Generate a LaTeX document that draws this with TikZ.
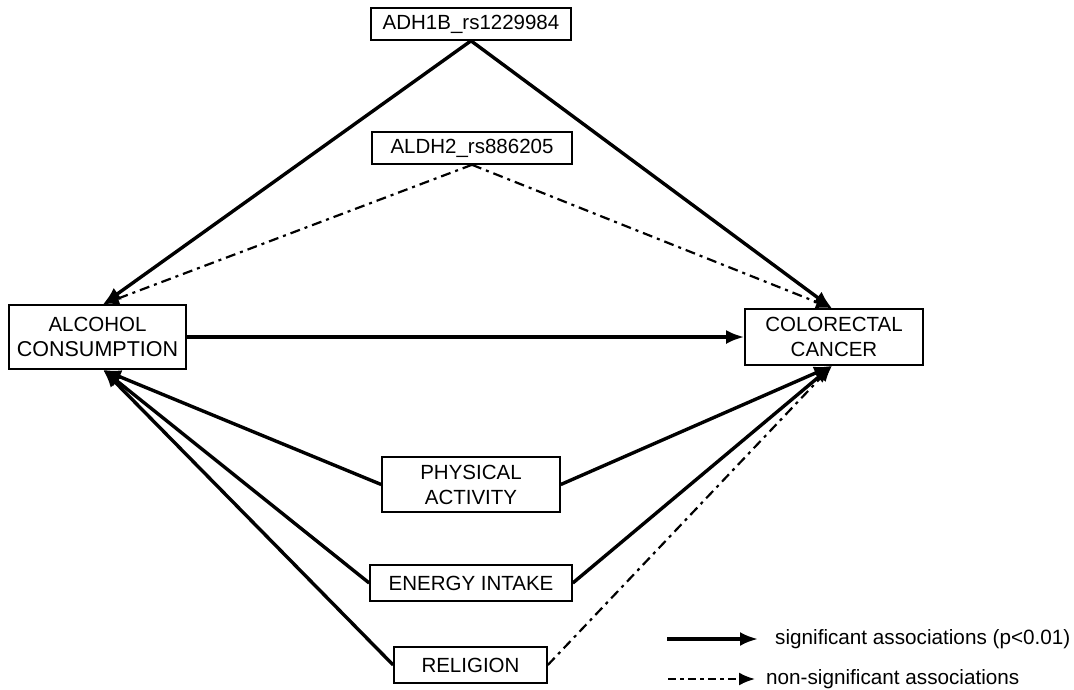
\documentclass[tikz,border=0pt]{standalone}
\usepackage{fontspec}
\setmainfont{Liberation Sans}
\usetikzlibrary{arrows.meta,calc}
\begin{document}
\begin{tikzpicture}[x=1pt,y=-1pt,
  box/.style={draw,line width=1.6pt,inner sep=0pt,align=center,font=\fontsize{20.5}{25}\selectfont},
  sig/.style={line width=3.4pt,-{Latex[length=18pt,width=14pt]}},
  nsig/.style={line width=2.2pt,dash pattern=on 10pt off 5pt on 3pt off 5pt,-{Latex[length=16pt,width=13pt]}},
  legtext/.style={anchor=west,inner sep=0pt,font=\fontsize{20.7}{23}\selectfont}]
\useasboundingbox (0,0) rectangle (1074,689);
\node[box,minimum width=200pt,minimum height=32pt] (adh) at (471,24) {ADH1B\_rs1229984};
\node[box,minimum width=200pt,minimum height=32pt] (aldh) at (472,148) {ALDH2\_rs886205};
\node[box,minimum width=177pt,minimum height=64pt] (alc) at (97.5,337) {ALCOHOL\\\fontsize{21.5}{25}\selectfont CONSUMPTION};
\node[box,minimum width=178pt,minimum height=56pt] (crc) at (834,337) {COLORECTAL\\CANCER};
\node[box,minimum width=178pt,minimum height=55pt] (pa) at (471,484.5) {PHYSICAL\\ACTIVITY};
\node[box,minimum width=202pt,minimum height=36pt] (ei) at (471,583) {ENERGY INTAKE};
\node[box,minimum width=153pt,minimum height=36pt] (rel) at (470.5,665) {RELIGION};
\coordinate (alcT) at ($(alc.north)+(5.5,0)$);
\coordinate (alcB) at ($(alc.south)+(5.5,0)$);
\coordinate (crcT) at ($(crc.north)+(-2,0)$);
\coordinate (crcB) at ($(crc.south)+(-2,0)$);
\draw[sig] (adh.south) -- (alcT);
\draw[sig] (adh.south) -- (crcT);
\draw[nsig] (aldh.south) -- (alcT);
\draw[nsig] (aldh.south) -- (crcT);
\draw[sig] (alc.east) -- (crc.west);
\draw[sig] (pa.west) -- (alcB);
\draw[sig] (pa.east) -- (crcB);
\draw[sig] (ei.west) -- (alcB);
\draw[sig] (ei.east) -- (crcB);
\draw[sig] (rel.west) -- (alcB);
\draw[nsig] (rel.east) -- (crcB);
% legend
\coordinate (l1a) at (667,639);
\coordinate (l1b) at (758,639);
\coordinate (l2a) at (668,679);
\coordinate (l2b) at (755,679);
\draw[sig] (l1a) -- (l1b);
\draw[nsig,dash pattern=on 8pt off 4pt on 4pt off 4pt] (l2a) -- (l2b);
\node[legtext] (t1) at (775,639) {significant associations (p<0.01)};
\node[legtext] (t2) at (766,679) {non-significant associations};
\end{tikzpicture}
\end{document}
